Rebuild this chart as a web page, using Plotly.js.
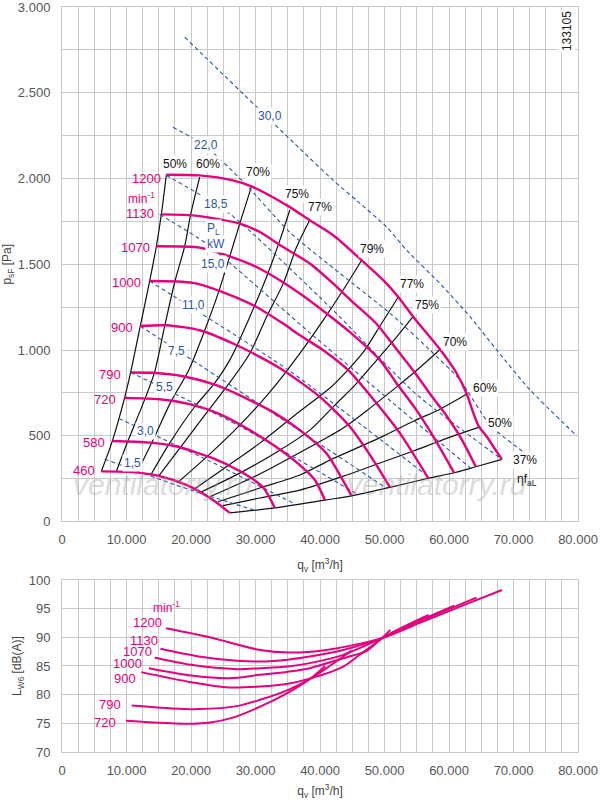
<!DOCTYPE html>
<html>
<head>
<meta charset="utf-8">
<script src="https://cdn.plot.ly/plotly-3.0.1.min.js"></script>
<style>
  html, body { margin: 0; padding: 0; background: #fff; }
  #chart { width: 600px; height: 806px; }
</style>
</head>
<body>
<div id="chart"></div>
<script>
// fan speed curves, q in m3/h, p in Pa
const speeds = ['1200', '1130', '1070', '1000', '900', '790', '720', '580', '460'];

const q1200 = [16180, 21350, 26520, 29380, 31710, 35330, 38430, 42050, 46460, 49810, 52140, 54470, 58620, 61210, 62760, 63790, 64570, 65870, 66890, 68200];
const p1200 = [2022, 2018, 1989, 1954, 1911, 1833, 1756, 1669, 1523, 1407, 1309, 1193, 1003, 863, 743, 630, 558, 494, 436, 362];
const q1130 = [15400, 20310, 27560, 30670, 34290, 38430, 42050, 44950, 48680, 51630, 54890, 57070, 59660, 62030, 64160];
const p1130 = [1791, 1785, 1737, 1688, 1600, 1504, 1387, 1284, 1156, 1016, 859, 743, 614, 475, 319];
const q1070 = [14630, 21350, 26010, 30160, 33770, 36880, 41020, 44640, 49300, 51890, 54740, 57530, 60790];
const p1070 = [1605, 1597, 1546, 1484, 1407, 1329, 1213, 1104, 941, 805, 661, 498, 284];
const q1000 = [13590, 20310, 25500, 30160, 34290, 36880, 40500, 44380, 48790, 52410, 56800];
const p1000 = [1402, 1391, 1329, 1251, 1154, 1086, 999, 882, 688, 514, 252];
const q900 = [12140, 16180, 21350, 26520, 30670, 34290, 39980, 44640, 48260, 50850];
const p900 = [1140, 1144, 1115, 1038, 960, 882, 727, 552, 358, 199];
const q790 = [10640, 14100, 18760, 23940, 29110, 33000, 36880, 41020, 43090, 44910];
const p790 = [869, 867, 847, 795, 708, 632, 533, 397, 271, 149];
const q720 = [9700, 15140, 19800, 24460, 29110, 33000, 36880, 39210, 40760];
const p720 = [721, 713, 684, 626, 533, 440, 329, 242, 125];
const q580 = [7800, 13590, 17470, 23370, 27560, 31130, 33000];
const p580 = [469, 460, 440, 370, 294, 201, 79];
const q460 = [6090, 10990, 15140, 19290, 23420, 26010];
const p460 = [292, 288, 265, 213, 125, 50];

const speedQ = [q1200, q1130, q1070, q1000, q900, q790, q720, q580, q460];
const speedP = [p1200, p1130, p1070, p1000, p900, p790, p720, p580, p460];

// efficiency lines, left to right
const etaLabels = ['50%', '60%', '70%', '75%', '77%', '79%', '77%', '75%', '70%', '60%', '50%', '37%'];
const etaQ = [
  [6090, 7800, 9700, 10640, 12140, 13590, 14630, 15400, 16180],
  [8420, 10220, 12920, 14360, 15920, 17470, 19020, 19950, 21350],
  [11610, 14050, 16850, 19640, 22130, 24190, 26010, 27560, 29380],
  [13850, 16690, 20570, 23420, 26010, 29110, 31710, 33770, 35330],
  [14980, 18510, 22130, 25700, 29110, 31710, 34290, 36370, 38430],
  [17930, 22900, 27560, 32220, 36880, 40500, 43600, 46460],
  [20310, 25230, 30670, 36100, 41540, 43870, 46710, 49570, 52140],
  [21350, 27560, 33770, 38430, 42310, 45420, 48790, 51890, 54470],
  [22900, 30670, 38430, 43600, 47750, 51890, 55000, 58620],
  [24190, 30670, 36880, 41540, 45680, 49810, 54470, 58620, 62760],
  [24970, 30670, 36880, 44130, 49300, 54470, 59660, 64830],
  [26010, 33000, 40760, 44910, 50850, 56800, 60790, 64160, 68200]
];
const etaP = [
  [292, 469, 721, 869, 1140, 1402, 1605, 1791, 2022],
  [292, 469, 721, 871, 1139, 1395, 1605, 1791, 2008],
  [284, 469, 696, 882, 1115, 1329, 1546, 1737, 1954],
  [277, 457, 669, 795, 941, 1193, 1426, 1639, 1818],
  [265, 440, 620, 795, 980, 1193, 1387, 1600, 1760],
  [227, 393, 562, 754, 980, 1174, 1350, 1523],
  [183, 312, 457, 620, 778, 865, 987, 1156, 1309],
  [168, 282, 416, 533, 679, 795, 941, 1076, 1197],
  [144, 277, 434, 545, 661, 785, 882, 1003],
  [115, 195, 271, 358, 428, 498, 585, 655, 743],
  [93, 137, 183, 271, 341, 411, 485, 552],
  [50, 79, 125, 149, 199, 252, 284, 319, 362]
];

// shaft power lines P_L in kW
const powerLabels = ['1,5', '3,0', '5,5', '7,5', '11,0', '15,0', '18,5', '22,0', '30,0'];
const powerQ = [
  [6600, 17620, 29740],
  [8820, 22900, 36100],
  [10640, 27250, 45890],
  [12140, 31290, 50390],
  [13590, 35330, 57070],
  [15140, 22390, 39210, 63280],
  [16180, 26010, 41540, 54810, 68200],
  [17200, 22130, 28340, 35330, 43090, 50850, 57070, 61720, 66380, 71550],
  [19020, 36880, 42050, 45680, 50340, 53450, 58620, 63280, 67420, 72590, 79840]
];
const powerP = [
  [364, 213, 67],
  [601, 352, 102],
  [869, 562, 157],
  [1140, 667, 192],
  [1402, 877, 253],
  [1791, 1620, 1075, 313],
  [2018, 1795, 1250, 746, 362],
  [2299, 2193, 1971, 1686, 1447, 1214, 999, 824, 562, 405],
  [2824, 2174, 1989, 1872, 1717, 1581, 1387, 1193, 999, 766, 498]
];

// sound power level L_W6 in dB(A)
const noiseSpeeds = ['1200', '1130', '1070', '1000', '900', '790', '720'];
const noiseQ = [
  [16150, 22900, 30700, 35300, 41000, 46200, 49600, 55650, 61590, 68200],
  [15260, 21200, 27140, 30700, 35000, 38400, 43600, 49600, 55650, 64260],
  [14370, 20010, 27140, 30700, 35000, 38400, 43600, 49600, 55650, 60820],
  [13480, 20010, 25950, 30700, 35000, 38400, 43600, 47330, 49600, 56840],
  [12290, 20010, 25950, 30700, 35000, 38400, 43600, 46200, 49600, 50900],
  [10810, 17040, 21200, 27140, 30700, 35000, 38400, 41500, 44900],
  [9920, 14080, 20010, 23000, 26500, 30700, 34500, 38400, 40800]
];
const noiseL = [
  [91.59, 90.02, 87.8, 87.35, 87.8, 88.9, 89.85, 92.6, 95.3, 98.26],
  [87.99, 86.65, 85.9, 85.77, 86.1, 86.65, 87.8, 89.85, 92.85, 96.92],
  [86.48, 85.2, 84.45, 84.62, 84.9, 85.5, 86.94, 89.85, 93.0, 95.5],
  [84.62, 83.35, 82.88, 83.46, 84.0, 84.62, 86.36, 87.7, 89.85, 93.91],
  [83.93, 82.18, 81.26, 81.42, 81.9, 82.8, 84.9, 87.0, 89.85, 91.3],
  [78.12, 77.6, 77.48, 78.0, 79.1, 80.8, 82.7, 85.0, 87.7],
  [75.45, 75.16, 74.93, 75.15, 76.0, 77.9, 80.0, 82.7, 85.0]
];

const FONT = 'Liberation Sans, Arial, sans-serif';
const PINK = '#e5007d';
const BLUE = '#2b56a5';
const GRID = '#c9c9c9';

const data = [];

etaQ.forEach((q, i) => {
  data.push({
    x: q, y: etaP[i], xaxis: 'x', yaxis: 'y',
    mode: 'lines', line: {color: '#111', width: 1.2, shape: 'spline', smoothing: 0.8},
    hoverinfo: 'skip', showlegend: false
  });
});

powerQ.forEach((q, i) => {
  data.push({
    x: q, y: powerP[i], xaxis: 'x', yaxis: 'y',
    mode: 'lines', line: {color: BLUE, width: 1.1, dash: '4px,3px', shape: 'spline', smoothing: 0.6},
    hoverinfo: 'skip', showlegend: false
  });
});

speedQ.forEach((q, i) => {
  data.push({
    x: q, y: speedP[i], xaxis: 'x', yaxis: 'y',
    mode: 'lines', line: {color: PINK, width: 2.4, shape: 'spline', smoothing: 0.7},
    name: speeds[i], hoverinfo: 'skip', showlegend: false
  });
});

noiseQ.forEach((q, i) => {
  data.push({
    x: q, y: noiseL[i], xaxis: 'x2', yaxis: 'y2',
    mode: 'lines', line: {color: PINK, width: 2, shape: 'spline', smoothing: 0.8},
    name: noiseSpeeds[i], hoverinfo: 'skip', showlegend: false
  });
});

function label(x, y, text, color, opts) {
  return Object.assign({
    x: x, y: y, xref: 'x', yref: 'y', text: text, showarrow: false,
    font: {family: FONT, size: 12, color: color}
  }, opts || {});
}

const pinkFont = {family: FONT, size: 13, color: PINK};
const wmFont = {family: FONT, size: 30, style: 'italic', color: 'rgba(160,160,160,0.38)'};

const annotations = [
  // speed labels
  label(15610, 2001, speeds[0], PINK, {xanchor: 'right', font: pinkFont}),
  label(14670, 1884, 'min<sup>-1</sup>', PINK, {xanchor: 'right'}),
  label(14520, 1797, speeds[1], PINK, {xanchor: 'right', font: pinkFont}),
  label(13900, 1599, speeds[2], PINK, {xanchor: 'right', font: pinkFont}),
  label(12500, 1391, speeds[3], PINK, {xanchor: 'right', font: pinkFont}),
  label(11260, 1133, speeds[4], PINK, {xanchor: 'right', font: pinkFont}),
  label(9390, 859, speeds[5], PINK, {xanchor: 'right', font: pinkFont}),
  label(8620, 713, speeds[6], PINK, {xanchor: 'right', font: pinkFont}),
  label(6910, 459, speeds[7], PINK, {xanchor: 'right', font: pinkFont}),
  label(5360, 300, speeds[8], PINK, {xanchor: 'right', font: pinkFont}),
  // efficiency labels
  label(17470, 2082, etaLabels[0], '#111', {bgcolor: '#fff'}),
  label(22590, 2082, etaLabels[1], '#111', {bgcolor: '#fff'}),
  label(30360, 2036, etaLabels[2], '#111', {bgcolor: '#fff'}),
  label(36370, 1911, etaLabels[3], '#111', {bgcolor: '#fff'}),
  label(39980, 1833, etaLabels[4], '#111', {bgcolor: '#fff'}),
  label(48010, 1591, etaLabels[5], '#111', {bgcolor: '#fff'}),
  label(54220, 1387, etaLabels[6], '#111', {bgcolor: '#fff'}),
  label(56550, 1261, etaLabels[7], '#111', {bgcolor: '#fff'}),
  label(60950, 1047, etaLabels[8], '#111', {bgcolor: '#fff'}),
  label(65610, 776, etaLabels[9], '#111', {bgcolor: '#fff'}),
  label(67940, 572, etaLabels[10], '#111', {bgcolor: '#fff'}),
  label(71820, 360, etaLabels[11], '#111', {bgcolor: '#fff'}),
  label(72080, 240, 'ηf<sub>aL</sub>', '#111'),
  // power labels
  label(32220, 2367, powerLabels[8], BLUE, {bgcolor: '#fff'}),
  label(22280, 2193, powerLabels[7], BLUE, {bgcolor: '#fff'}),
  label(23940, 1849, powerLabels[6], BLUE, {bgcolor: '#fff'}),
  label(23420, 1708, 'P<sub>L</sub>', BLUE, {bgcolor: '#fff'}),
  label(23940, 1620, 'kW', BLUE, {bgcolor: '#fff'}),
  label(23420, 1504, powerLabels[5], BLUE, {bgcolor: '#fff'}),
  label(20310, 1261, powerLabels[4], BLUE, {bgcolor: '#fff'}),
  label(17730, 995, powerLabels[3], BLUE, {bgcolor: '#fff'}),
  label(15920, 782, powerLabels[2], BLUE, {bgcolor: '#fff'}),
  label(12920, 527, powerLabels[1], BLUE, {bgcolor: '#fff'}),
  label(10990, 342, powerLabels[0], BLUE, {bgcolor: '#fff'}),
  // drawing number and watermark
  label(78200, 2990, '133105', '#222', {textangle: -90, yanchor: 'top', bgcolor: '#fff',
    font: {family: FONT, size: 12, color: '#222'}}),
  label(15600, 218, 'ventilatorry.ru', '#aaa', {font: wmFont}),
  label(58150, 218, 'ventilatorry.ru', '#aaa', {font: wmFont}),
  // noise chart labels
  label(16150, 95.36, 'min<sup>-1</sup>', PINK, {xref: 'x2', yref: 'y2'}),
  label(15860, 92.57, noiseSpeeds[0], PINK, {xref: 'x2', yref: 'y2', xanchor: 'right', font: pinkFont}),
  label(15140, 89.44, noiseSpeeds[1], PINK, {xref: 'x2', yref: 'y2', xanchor: 'right', font: pinkFont}),
  label(14310, 87.52, noiseSpeeds[2], PINK, {xref: 'x2', yref: 'y2', xanchor: 'right', font: pinkFont}),
  label(12770, 85.38, noiseSpeeds[3], PINK, {xref: 'x2', yref: 'y2', xanchor: 'right', font: pinkFont}),
  label(11820, 82.88, noiseSpeeds[4], PINK, {xref: 'x2', yref: 'y2', xanchor: 'right', font: pinkFont}),
  label(9440, 78.24, noiseSpeeds[5], PINK, {xref: 'x2', yref: 'y2', xanchor: 'right', font: pinkFont}),
  label(8730, 75.16, noiseSpeeds[6], PINK, {xref: 'x2', yref: 'y2', xanchor: 'right', font: pinkFont})
];

const tickFont = {family: FONT, size: 13, color: '#555'};
const titleFont = {family: FONT, size: 12, color: '#444'};

function xAxis(anchor, standoff) {
  return {
    anchor: anchor, range: [0, 80000], dtick: 10000, tick0: 0,
    tickformat: ',d', separatethousands: true, tickfont: tickFont,
    showgrid: true, gridcolor: GRID, gridwidth: 1,
    minor: {dtick: 2500, showgrid: true, gridcolor: GRID, gridwidth: 1},
    showline: true, linecolor: GRID, mirror: true, zeroline: false,
    ticks: '', ticklabelstandoff: 6, ticklabeloverflow: 'allow',
    title: {text: 'q<sub>v</sub> [m<sup>3</sup>/h]', font: titleFont, standoff: standoff}
  };
}

const layout = {
  width: 600, height: 806,
  margin: {l: 62, r: 22, t: 7, b: 54},
  paper_bgcolor: '#fff', plot_bgcolor: '#fff',
  separators: ',.',
  showlegend: false,
  xaxis: xAxis('y', 14),
  xaxis2: xAxis('y2', 10),
  yaxis: {
    domain: [0.3094, 1], range: [0, 3000], dtick: 500,
    tickformat: ',d', separatethousands: true, tickfont: tickFont,
    showgrid: true, gridcolor: GRID, gridwidth: 1,
    minor: {dtick: 250, showgrid: true, gridcolor: GRID, gridwidth: 1},
    showline: true, linecolor: GRID, mirror: true, zeroline: false,
    ticks: '', ticklabelstandoff: 8, ticklabeloverflow: 'allow',
    title: {text: 'p<sub>sF</sub> [Pa]', font: titleFont, standoff: 4}
  },
  yaxis2: {
    domain: [0, 0.2309], range: [70, 100], dtick: 5,
    tickfont: tickFont,
    showgrid: true, gridcolor: GRID, gridwidth: 1,
    showline: true, linecolor: GRID, mirror: true, zeroline: false,
    ticks: '', ticklabelstandoff: 8, ticklabeloverflow: 'allow',
    title: {text: 'L<sub>W6</sub> [dB(A)]', font: titleFont, standoff: 4}
  },
  annotations: annotations
};

Plotly.newPlot('chart', data, layout, {staticPlot: true, displayModeBar: false});
</script>
</body>
</html>
